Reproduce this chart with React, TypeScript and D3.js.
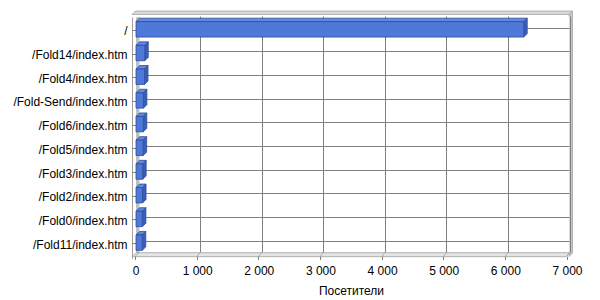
import React from "react";
import * as d3 from "d3";

const categories = [
  "/",
  "/Fold14/index.htm",
  "/Fold4/index.htm",
  "/Fold-Send/index.htm",
  "/Fold6/index.htm",
  "/Fold5/index.htm",
  "/Fold3/index.htm",
  "/Fold2/index.htm",
  "/Fold0/index.htm",
  "/Fold11/index.htm",
];
const visitors = [6290, 142, 138, 120, 118, 116, 108, 106, 104, 102];
const xTicks = [0, 1000, 2000, 3000, 4000, 5000, 6000, 7000];
const xTitle = "Посетители";

const W = 600;
const H = 300;
const DX = 3.5;
const DY = 3.5;

const fmt = (v: number) => d3.format(",")(v).replace(/,/g, " ");

export default function App() {
  const xFront = d3.scaleLinear().domain([0, 7000]).range([135, 566.5]);
  const xBack = d3.scaleLinear().domain([0, 7000]).range([138.5, 569.5]);
  const xBar = d3.scaleLinear().domain([0, 7000]).range([136, 567.5]);
  const y = d3
    .scaleBand<string>()
    .domain(categories)
    .range([17.5, 254.5])
    .paddingInner(0.35)
    .paddingOuter(0.175);

  const wallTop = 16.5;
  const wallBottom = 252.7;
  const floorFront = 256.7;
  const font = "'Liberation Sans', Arial, sans-serif";

  const bw = y.bandwidth();

  return (
    <svg
      width={W}
      height={H}
      style={{ position: "absolute", left: 0, top: 0, background: "#fff" }}
      fontFamily={font}
    >
      <rect x={0} y={0} width={W} height={H} fill="#fff" />
      {/* top edge of back wall */}
      <polygon
        points={`${132},${14.5} ${135.5},${11} ${572.5},${11} ${569},${14.5}`}
        fill="#d6d6d6"
        stroke="#a8a8a8"
        strokeWidth={0.8}
      />
      {/* right edge */}
      <polygon
        points={`${569},${14.5} ${572.5},${11} ${572.5},${253} ${569},${256.7}`}
        fill="#c4c4c4"
        stroke="#a8a8a8"
        strokeWidth={0.8}
      />
      {/* back wall */}
      <rect
        x={xBack(0)}
        y={wallTop}
        width={xBack(7000) - xBack(0)}
        height={wallBottom - wallTop}
        fill="#fff"
      />
      {/* left wall */}
      <polygon
        points={`${136},${17.5} ${139.5},${wallTop} ${139.5},${wallBottom} ${136},${floorFront}`}
        fill="#c0c0c0"
      />
      {/* horizontal gridlines */}
      {categories.map((c) => {
        const yy = Math.round((y(c) as number) + bw / 2 - 1.8) + 0.5;
        return (
          <line
            key={"h" + c}
            x1={xBack(0)}
            x2={xBack(7000)}
            y1={yy}
            y2={yy}
            stroke="#808080"
            strokeWidth={1}
          />
        );
      })}
      {/* vertical gridlines */}
      {xTicks.slice(1).map((t) => {
        const xx = Math.round(xBack(t)) + 0.5;
        return (
          <line
            key={"v" + t}
            x1={xx}
            x2={xx}
            y1={wallTop}
            y2={wallBottom}
            stroke="#808080"
            strokeWidth={1}
          />
        );
      })}
      {/* floor */}
      <polygon
        points={`${132},${floorFront} ${136},${wallBottom} ${569.5},${wallBottom} ${566},${floorFront}`}
        fill="#e4e4e4"
        stroke="#a0a0a0"
        strokeWidth={0.8}
      />
      {xTicks.map((t) => (
        <line
          key={"fd" + t}
          x1={xFront(t)}
          y1={floorFront}
          x2={xBack(t)}
          y2={wallBottom}
          stroke="#a0a0a0"
          strokeWidth={0.8}
        />
      ))}
      {/* category axis line */}
      <line x1={132.5} x2={132.5} y1={17.5} y2={floorFront + 2} stroke="#a0a0a0" strokeWidth={1} />
      {categories.map((c) => {
        const yy = Math.round((y(c) as number) + bw / 2 + 0.5) + 0.5;
        return (
          <line key={"ct" + c} x1={132.5} x2={136} y1={yy} y2={yy} stroke="#808080" strokeWidth={1} />
        );
      })}
      {/* bars */}
      {categories.map((c, i) => {
        const x0 = xBar(0);
        const x1 = xBar(visitors[i]);
        const y0 = y(c) as number;
        const y1 = y0 + bw;
        return (
          <g key={"b" + c} stroke="#2e4c9c" strokeWidth={0.8} strokeLinejoin="round">
            <polygon
              points={`${x0},${y0} ${x0 + DX},${y0 - DY} ${x1 + DX},${y0 - DY} ${x1},${y0}`}
              fill="#6288e0"
            />
            <polygon
              points={`${x1},${y0} ${x1 + DX},${y0 - DY} ${x1 + DX},${y1 - DY} ${x1},${y1}`}
              fill="#3a5eb8"
            />
            <rect x={x0} y={y0} width={x1 - x0} height={bw} fill="#4f79d8" />
          </g>
        );
      })}
      {/* category labels */}
      {categories.map((c) => (
        <text
          key={"l" + c}
          x={127.5}
          y={(y(c) as number) + bw / 2 + 1.8}
          dy="0.35em"
          textAnchor="end"
          fontSize={12}
          fill="#000"
        >
          {c}
        </text>
      ))}
      {/* x ticks */}
      {xTicks.map((t) => (
        <g key={"xt" + t}>
          <line
            x1={Math.round(xFront(t)) + 0.5}
            x2={Math.round(xFront(t)) + 0.5}
            y1={floorFront}
            y2={260}
            stroke="#808080"
            strokeWidth={1}
          />
          <text x={xFront(t) + 1} y={275} textAnchor="middle" fontSize={12} fill="#000">
            {fmt(t)}
          </text>
        </g>
      ))}
      <text x={351.5} y={295} textAnchor="middle" fontSize={12} fill="#000">
        {xTitle}
      </text>
    </svg>
  );
}
